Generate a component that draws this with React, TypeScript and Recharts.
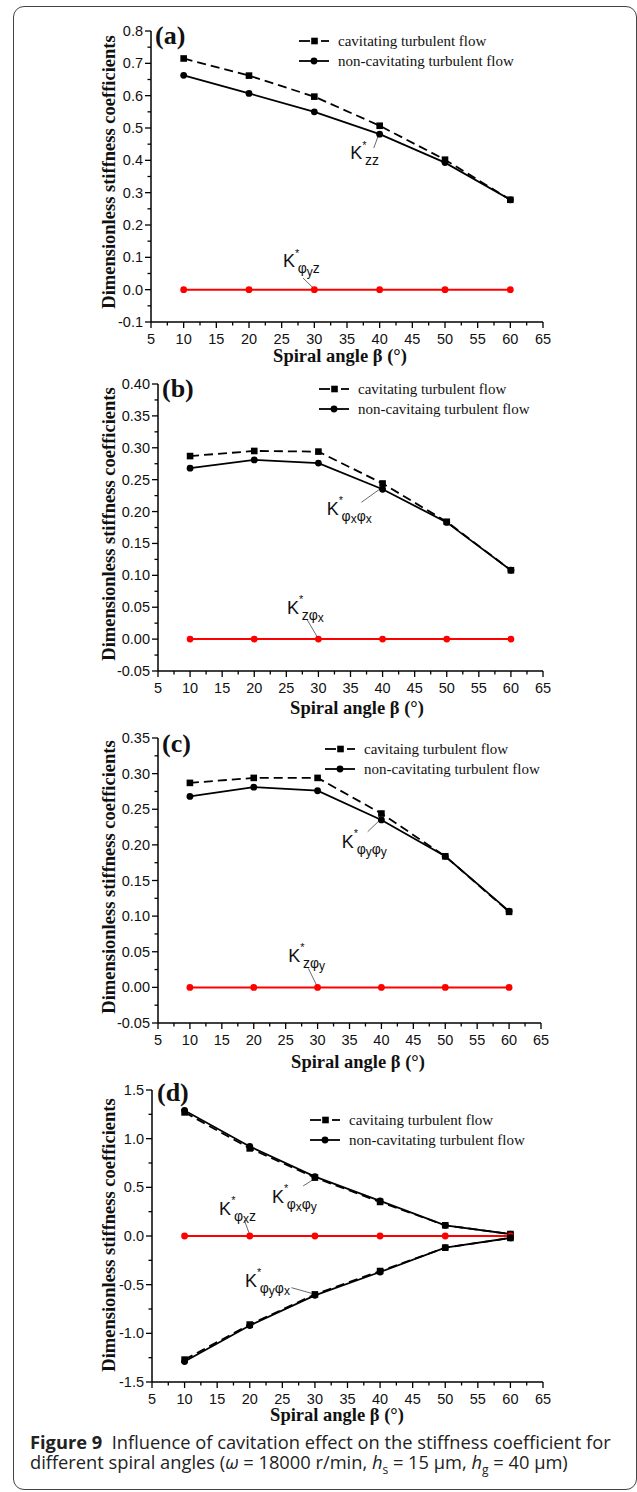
import React from 'react';
import { LineChart, Line, XAxis, YAxis, Legend, ReferenceDot, ReferenceLine } from 'recharts';

// ---------- data ----------
const angles = [10, 20, 30, 40, 50, 60];

const aCavitating = [0.715, 0.662, 0.597, 0.507, 0.402, 0.278];
const aNonCavitating = [0.663, 0.607, 0.55, 0.481, 0.393, 0.278];
const aCross = [0, 0, 0, 0, 0, 0];

const bCavitating = [0.287, 0.295, 0.294, 0.244, 0.184, 0.108];
const bNonCavitating = [0.268, 0.281, 0.276, 0.235, 0.183, 0.108];
const bCross = [0, 0, 0, 0, 0, 0];

const cCavitating = [0.287, 0.294, 0.294, 0.244, 0.184, 0.106];
const cNonCavitating = [0.268, 0.281, 0.276, 0.235, 0.184, 0.107];
const cCross = [0, 0, 0, 0, 0, 0];

const dCavUpper = [1.27, 0.9, 0.6, 0.35, 0.11, 0.02];
const dNonUpper = [1.29, 0.92, 0.61, 0.36, 0.11, 0.02];
const dCavLower = [-1.27, -0.91, -0.6, -0.36, -0.12, -0.02];
const dNonLower = [-1.29, -0.92, -0.61, -0.37, -0.12, -0.02];
const dCross = [0, 0, 0, 0, 0, 0];

const xMajorTicks = [5, 10, 15, 20, 25, 30, 35, 40, 45, 50, 55, 60, 65];
const xMinorTicks = [7.5, 12.5, 17.5, 22.5, 27.5, 32.5, 37.5, 42.5, 47.5, 52.5, 57.5, 62.5];

const aYMajor = [-0.1, 0, 0.1, 0.2, 0.3, 0.4, 0.5, 0.6, 0.7, 0.8];
const aYMinor = [-0.05, 0.05, 0.15, 0.25, 0.35, 0.45, 0.55, 0.65, 0.75];
const bYMajor = [-0.05, 0, 0.05, 0.1, 0.15, 0.2, 0.25, 0.3, 0.35, 0.4];
const bYMinor = [-0.025, 0.025, 0.075, 0.125, 0.175, 0.225, 0.275, 0.325, 0.375];
const cYMajor = [-0.05, 0, 0.05, 0.1, 0.15, 0.2, 0.25, 0.3, 0.35];
const cYMinor = [-0.025, 0.025, 0.075, 0.125, 0.175, 0.225, 0.275, 0.325];
const dYMajor = [-1.5, -1.0, -0.5, 0, 0.5, 1.0, 1.5];
const dYMinor = [-1.25, -0.75, -0.25, 0.25, 0.75, 1.25];

const aLegend = ['cavitating turbulent flow', 'non-cavitating turbulent flow'];
const bLegend = ['cavitating turbulent flow', 'non-cavitaing turbulent flow'];
const cLegend = ['cavitaing turbulent flow', 'non-cavitating turbulent flow'];
const dLegend = ['cavitaing turbulent flow', 'non-cavitating turbulent flow'];

const xTitle = 'Spiral angle \u03b2 (\u00b0)';
const yTitle = 'Dimensionless stiffness coefficients';

// ---------- styling ----------
const SERIF = '"Liberation Serif", "Times New Roman", serif';
const SANS = '"Liberation Sans", Arial, sans-serif';
const RED = '#ff0000';
const PAGE_W = 637;
const TICK_FS = 14.5;

const near = (arr: number[], v: number) => arr.some((m) => Math.abs(m - v) < 1e-6);

const makeXTick = (majors: number[]) => (props: any) => {
  const { x, y, payload } = props;
  const v = payload.value;
  const major = near(majors, v);
  return (
    <g>
      <line x1={x} x2={x} y1={y} y2={y + (major ? 6 : 3.5)} stroke="#000" strokeWidth={1.3} />
      {major && (
        <text x={x} y={y + 21.5} textAnchor="middle" fontSize={TICK_FS} fontFamily={SANS} fill="#111">
          {v}
        </text>
      )}
    </g>
  );
};

const makeYTick = (majors: number[], decimals: number) => (props: any) => {
  const { x, y, payload } = props;
  const v = payload.value;
  const major = near(majors, v);
  const label = Math.abs(v) < 1e-9 ? (0).toFixed(decimals) : v.toFixed(decimals);
  return (
    <g>
      <line x1={x} x2={x - (major ? 6 : 3.5)} y1={y} y2={y} stroke="#000" strokeWidth={1.3} />
      {major && (
        <text x={x - 8} y={y + 5} textAnchor="end" fontSize={TICK_FS} fontFamily={SANS} fill="#111">
          {label}
        </text>
      )}
    </g>
  );
};

const squareDot = (color: string) => (p: any) => (
  <rect key={`sq-${p.dataKey}-${p.index}`} x={p.cx - 3.3} y={p.cy - 3.3} width={6.6} height={6.6} fill={color} />
);
const circleDot = (color: string) => (p: any) => (
  <circle key={`ci-${p.dataKey}-${p.index}`} cx={p.cx} cy={p.cy} r={3.4} fill={color} />
);

const makeLegend = (labels: string[]) => () => (
  <svg width={300} height={42} style={{ display: 'block', overflow: 'visible' }}>
    <line x1={0} x2={11} y1={10} y2={10} stroke="#000" strokeWidth={1.8} />
    <line x1={22} x2={30} y1={10} y2={10} stroke="#000" strokeWidth={1.8} />
    <rect x={12.2} y={6.7} width={6.6} height={6.6} fill="#000" />
    <text x={39} y={15} fontSize={15} fontFamily={SERIF} fill="#111">
      {labels[0]}
    </text>
    <line x1={0} x2={30} y1={30} y2={30} stroke="#000" strokeWidth={1.8} />
    <circle cx={15} cy={30} r={3.4} fill="#000" />
    <text x={39} y={35} fontSize={15} fontFamily={SERIF} fill="#111">
      {labels[1]}
    </text>
  </svg>
);

type Part = { t: string; l: number };
type Ann = { x: number; y: number; parts: Part[]; seg: [number, number, number, number] };

const annShape = (parts: Part[]) => (p: any) => {
  const offs: Record<number, number> = { 1: 6, 2: 8.5 };
  const sizes: Record<number, number> = { 1: 14, 2: 12 };
  let cur = -10.5;
  return (
    <text x={p.cx} y={p.cy} fontFamily={SANS} fill="#111">
      <tspan fontSize={18}>K</tspan>
      <tspan fontSize={11} dy={-10.5}>
        *
      </tspan>
      {parts.map((pt, i) => {
        const target = offs[pt.l];
        const dy = target - cur;
        cur = target;
        return (
          <tspan key={i} fontSize={sizes[pt.l]} dy={dy} dx={i === 0 ? -1.5 : 0}>
            {pt.t}
          </tspan>
        );
      })}
    </text>
  );
};

const aAnn: Ann[] = [
  { x: 35.5, y: 0.404, parts: [{ t: 'zz', l: 1 }], seg: [39.1, 0.438, 39.8, 0.477] },
  {
    x: 25.2,
    y: 0.07,
    parts: [
      { t: '\u03c6', l: 1 },
      { t: 'y', l: 2 },
      { t: 'z', l: 1 },
    ],
    seg: [28.27, 0.036, 29.9, 0.004],
  },
];
const bAnn: Ann[] = [
  {
    x: 31.3,
    y: 0.1946,
    parts: [
      { t: '\u03c6', l: 1 },
      { t: 'x', l: 2 },
      { t: '\u03c6', l: 1 },
      { t: 'x', l: 2 },
    ],
    seg: [36.7, 0.2145, 39.6, 0.2354],
  },
  {
    x: 25.1,
    y: 0.0394,
    parts: [
      { t: 'z', l: 1 },
      { t: '\u03c6', l: 1 },
      { t: 'x', l: 2 },
    ],
    seg: [28.27, 0.03, 29.9, 0.002],
  },
];
const cAnn: Ann[] = [
  {
    x: 33.8,
    y: 0.196,
    parts: [
      { t: '\u03c6', l: 1 },
      { t: 'y', l: 2 },
      { t: '\u03c6', l: 1 },
      { t: 'y', l: 2 },
    ],
    seg: [37.85, 0.2185, 39.78, 0.235],
  },
  {
    x: 25.4,
    y: 0.036,
    parts: [
      { t: 'z', l: 1 },
      { t: '\u03c6', l: 1 },
      { t: 'y', l: 2 },
    ],
    seg: [28.55, 0.0268, 29.9, 0.002],
  },
];
const dAnn: Ann[] = [
  {
    x: 23.4,
    y: 0.342,
    parts: [
      { t: '\u03c6', l: 1 },
      { t: 'x', l: 2 },
      { t: '\u03c6', l: 1 },
      { t: 'y', l: 2 },
    ],
    seg: [28.2, 0.514, 29.9, 0.586],
  },
  {
    x: 15.3,
    y: 0.216,
    parts: [
      { t: '\u03c6', l: 1 },
      { t: 'x', l: 2 },
      { t: 'z', l: 1 },
    ],
    seg: [19.17, 0.164, 20, 0.01],
  },
  {
    x: 19.27,
    y: -0.521,
    parts: [
      { t: '\u03c6', l: 1 },
      { t: 'y', l: 2 },
      { t: '\u03c6', l: 1 },
      { t: 'x', l: 2 },
    ],
    seg: [26.4, -0.531, 29.5, -0.589],
  },
];

type SeriesDef = { key: string; values: number[]; kind: 'cav' | 'non' | 'cross' };

type PanelProps = {
  top: number;
  height: number;
  plot: { left: number; right: number; top: number; bottom: number };
  yDomain: [number, number];
  yMajor: number[];
  yMinor: number[];
  decimals: number;
  series: SeriesDef[];
  legend: string[];
  legendPos: { left: number; top: number };
  anns: Ann[];
};

const AXIS_W = 10;

const Panel = ({ top, height, plot, yDomain, yMajor, yMinor, decimals, series, legend, legendPos, anns }: PanelProps) => {
  const data = angles.map((x, i) => {
    const row: Record<string, number> = { x };
    series.forEach((s) => {
      row[s.key] = s.values[i];
    });
    return row;
  });
  const margin = {
    top: plot.top - top,
    bottom: top + height - plot.bottom - AXIS_W,
    left: plot.left - AXIS_W,
    right: PAGE_W - plot.right,
  };
  return (
    <div style={{ position: 'absolute', left: 0, top }}>
      <LineChart width={PAGE_W} height={height} data={data} margin={margin}>
        <XAxis
          dataKey="x"
          type="number"
          domain={[5, 65]}
          ticks={[...xMajorTicks, ...xMinorTicks]}
          interval={0}
          height={AXIS_W}
          tickSize={0}
          tickMargin={0}
          tickLine={false}
          axisLine={{ stroke: '#000', strokeWidth: 1.5 }}
          tick={makeXTick(xMajorTicks)}
          allowDataOverflow
        />
        <YAxis
          type="number"
          domain={yDomain}
          ticks={[...yMajor, ...yMinor]}
          interval={0}
          width={AXIS_W}
          tickSize={0}
          tickMargin={0}
          tickLine={false}
          axisLine={{ stroke: '#000', strokeWidth: 1.5 }}
          tick={makeYTick(yMajor, decimals)}
          allowDataOverflow
        />
        <Legend
          layout="horizontal"
          verticalAlign="middle"
          align="center"
          content={makeLegend(legend)}
          wrapperStyle={{ left: legendPos.left, top: legendPos.top, width: 300, height: 42 }}
        />
        {series.map((s) =>
          s.kind === 'cross' ? (
            <Line
              key={s.key}
              dataKey={s.key}
              stroke={RED}
              strokeWidth={2}
              dot={circleDot(RED)}
              isAnimationActive={false}
              legendType="none"
            />
          ) : s.kind === 'cav' ? (
            <Line
              key={s.key}
              dataKey={s.key}
              stroke="#000"
              strokeWidth={1.8}
              strokeDasharray="9 5"
              dot={squareDot('#000')}
              isAnimationActive={false}
            />
          ) : (
            <Line
              key={s.key}
              dataKey={s.key}
              stroke="#000"
              strokeWidth={1.8}
              dot={circleDot('#000')}
              isAnimationActive={false}
            />
          )
        )}
        {anns.map((a, i) => (
          <ReferenceLine
            key={`l${i}`}
            segment={[
              { x: a.seg[0], y: a.seg[1] },
              { x: a.seg[2], y: a.seg[3] },
            ]}
            stroke="#444"
            strokeWidth={0.8}
          />
        ))}
        {anns.map((a, i) => (
          <ReferenceDot key={`d${i}`} x={a.x} y={a.y} r={0} shape={annShape(a.parts)} />
        ))}
      </LineChart>
    </div>
  );
};

const panelLabels = [
  { t: '(a)', x: 155, y: 44 },
  { t: '(b)', x: 162, y: 397 },
  { t: '(c)', x: 162, y: 752 },
  { t: '(d)', x: 157, y: 1101 },
];
const yTitles = [
  { x: 115, y: 172 },
  { x: 115, y: 524 },
  { x: 115, y: 877 },
  { x: 115, y: 1235 },
];
const xTitles = [
  { x: 340, y: 362 },
  { x: 357, y: 714 },
  { x: 358, y: 1068 },
  { x: 337, y: 1421 },
];

export default function App() {
  return (
    <div style={{ position: 'absolute', left: 0, top: 0, width: PAGE_W, height: 1492, background: '#fff' }}>
      <div
        style={{
          position: 'absolute',
          left: 13,
          top: 6,
          width: 622,
          height: 1482,
          border: '1px solid #444',
          borderRadius: 11,
        }}
      />
      <Panel
        top={0}
        height={372}
        plot={{ left: 151, right: 543, top: 31, bottom: 322 }}
        yDomain={[-0.1, 0.8]}
        yMajor={aYMajor}
        yMinor={aYMinor}
        decimals={1}
        series={[
          { key: 'cav', values: aCavitating, kind: 'cav' },
          { key: 'non', values: aNonCavitating, kind: 'non' },
          { key: 'cross', values: aCross, kind: 'cross' },
        ]}
        legend={aLegend}
        legendPos={{ left: 299, top: 31 }}
        anns={aAnn}
      />
      <Panel
        top={372}
        height={350}
        plot={{ left: 158, right: 543, top: 384, bottom: 671 }}
        yDomain={[-0.05, 0.4]}
        yMajor={bYMajor}
        yMinor={bYMinor}
        decimals={2}
        series={[
          { key: 'cav', values: bCavitating, kind: 'cav' },
          { key: 'non', values: bNonCavitating, kind: 'non' },
          { key: 'cross', values: bCross, kind: 'cross' },
        ]}
        legend={bLegend}
        legendPos={{ left: 319, top: 7 }}
        anns={bAnn}
      />
      <Panel
        top={722}
        height={350}
        plot={{ left: 158, right: 541, top: 738, bottom: 1023 }}
        yDomain={[-0.05, 0.35]}
        yMajor={cYMajor}
        yMinor={cYMinor}
        decimals={2}
        series={[
          { key: 'cav', values: cCavitating, kind: 'cav' },
          { key: 'non', values: cNonCavitating, kind: 'non' },
          { key: 'cross', values: cCross, kind: 'cross' },
        ]}
        legend={cLegend}
        legendPos={{ left: 325, top: 17 }}
        anns={cAnn}
      />
      <Panel
        top={1072}
        height={356}
        plot={{ left: 152, right: 543, top: 1090, bottom: 1382 }}
        yDomain={[-1.5, 1.5]}
        yMajor={dYMajor}
        yMinor={dYMinor}
        decimals={1}
        series={[
          { key: 'cavU', values: dCavUpper, kind: 'cav' },
          { key: 'nonU', values: dNonUpper, kind: 'non' },
          { key: 'cross', values: dCross, kind: 'cross' },
          { key: 'cavL', values: dCavLower, kind: 'cav' },
          { key: 'nonL', values: dNonLower, kind: 'non' },
        ]}
        legend={dLegend}
        legendPos={{ left: 310, top: 38 }}
        anns={dAnn}
      />
      <svg
        width={PAGE_W}
        height={1492}
        style={{ position: 'absolute', left: 0, top: 0, pointerEvents: 'none' }}
      >
        {panelLabels.map((p) => (
          <text key={p.t} x={p.x} y={p.y} fontSize={26} fontWeight="bold" fontFamily={SERIF} fill="#111">
            {p.t}
          </text>
        ))}
        {yTitles.map((p, i) => (
          <text
            key={`yt${i}`}
            x={p.x}
            y={p.y}
            transform={`rotate(-90 ${p.x} ${p.y})`}
            textAnchor="middle"
            fontSize={18.5}
            fontWeight="bold"
            fontFamily={SERIF}
            fill="#111"
          >
            {yTitle}
          </text>
        ))}
        {xTitles.map((p, i) => (
          <text
            key={`xt${i}`}
            x={p.x}
            y={p.y}
            textAnchor="middle"
            fontSize={18.5}
            fontWeight="bold"
            fontFamily={SERIF}
            fill="#111"
          >
            {xTitle}
          </text>
        ))}
      </svg>
      <div
        style={{
          position: 'absolute',
          left: 30,
          top: 1432,
          width: 610,
          fontFamily: '"Open Sans", "Noto Sans", sans-serif',
          fontSize: 18.3,
          lineHeight: '20px',
          color: '#222',
          whiteSpace: 'nowrap',
        }}
      >
        <span style={{ fontWeight: 'bold' }}>Figure 9</span>&nbsp; Influence of cavitation effect on the stiffness
        coefficient for
        <br />
        different spiral angles (<i>ω</i> = 18000 r/min, <i>h</i>
        <sub style={{ fontSize: 12, lineHeight: 0 }}>s</sub> = 15 μm, <i>h</i>
        <sub style={{ fontSize: 12, lineHeight: 0 }}>g</sub> = 40 μm)
      </div>
    </div>
  );
}
